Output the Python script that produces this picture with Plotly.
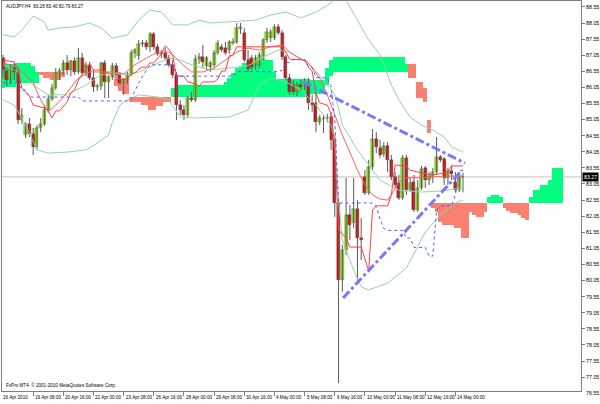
import plotly.graph_objects as go

SYMBOL_TEXT = "AUDJPY,H4  83.28 83.40 82.79 83.27"
COPYRIGHT = "FxPro MT4, © 2001-2010 MetaQuotes Software Corp."
BID = 83.27

TIME_LABEL_BARS = [0, 8, 16, 24, 32, 40, 48, 56, 64, 72, 80, 88, 96, 104, 112, 120]
TIME_LABELS = ["16 Apr 2010", "19 Apr 08:00", "20 Apr 16:00", "22 Apr 00:00", "23 Apr 08:00",
               "26 Apr 16:00", "28 Apr 00:00", "29 Apr 08:00", "30 Apr 16:00", "4 May 00:00",
               "5 May 08:00", "6 May 16:00", "10 May 00:00", "11 May 08:00", "12 May 16:00",
               "14 May 00:00"]
PRICE_TICKS = [77.05, 77.55, 78.05, 78.55, 79.05, 79.55, 80.05, 80.55, 81.05, 81.55, 82.05,
               82.55, 83.05, 83.55, 84.05, 84.55, 85.05, 85.55, 86.05, 86.55, 87.05, 87.55,
               88.05, 88.55]
LOW_LABEL = "76.55"

OPEN = [86.96, 86.56, 86.28, 86.65, 86.53, 85.04, 84.57, 84.91, 84.60, 84.20,
        84.79, 84.91, 85.35, 85.69, 86.03, 86.47, 86.56, 86.81, 86.59, 86.87,
        86.53, 86.96, 86.50, 86.75, 86.34, 86.06, 86.09, 86.81, 86.22, 86.37,
        86.72, 86.44, 86.19, 86.28, 86.47, 87.12, 87.03, 87.40, 87.43, 87.31,
        87.71, 87.31, 87.09, 87.12, 86.96, 86.75, 86.44, 85.50, 85.35, 85.19,
        85.72, 85.66, 86.93, 86.99, 86.72, 86.68, 86.75, 87.12, 87.31, 87.27,
        87.21, 87.43, 87.46, 87.86, 87.74, 86.90, 86.96, 86.72, 86.75, 86.99,
        87.52, 87.58, 87.58, 87.93, 87.74, 86.99, 86.34, 86.12, 85.91, 86.12,
        86.06, 86.19, 85.57, 85.57, 84.97, 85.07, 85.10, 85.13, 84.42, 82.46,
        80.07, 81.00, 82.09, 81.84, 82.27, 81.37, 83.27, 82.77, 83.58, 84.45,
        84.17, 83.98, 84.23, 83.80, 83.27, 83.08, 82.62, 83.86, 82.86, 83.11,
        82.24, 82.93, 83.55, 83.17, 83.27, 83.42, 83.89, 83.83, 83.24, 83.45,
        83.11, 82.86, 83.28]
HIGH = [87.06, 86.72, 86.78, 86.84, 86.65, 85.41, 84.97, 85.10, 84.79, 84.88,
        85.10, 85.50, 85.82, 86.16, 86.65, 86.65, 86.90, 87.06, 86.90, 86.99,
        87.27, 87.12, 86.84, 86.84, 86.59, 86.16, 86.84, 86.90, 86.44, 86.81,
        86.81, 86.53, 86.34, 86.53, 87.21, 87.27, 87.52, 87.52, 87.52, 87.77,
        87.77, 87.40, 87.21, 87.27, 87.06, 86.90, 86.53, 85.66, 85.50, 85.78,
        85.91, 87.06, 87.12, 87.37, 87.03, 86.87, 87.21, 87.52, 87.40, 87.46,
        87.52, 87.58, 88.05, 88.05, 87.90, 87.21, 87.06, 87.06, 87.15, 87.58,
        87.90, 87.86, 88.01, 88.02, 87.83, 87.06, 86.47, 86.28, 86.22, 86.28,
        86.34, 86.34, 85.82, 85.88, 85.19, 85.19, 85.23, 85.29, 84.57, 82.55,
        81.16, 83.24, 82.40, 83.24, 82.55, 81.99, 83.48, 83.80, 84.76, 84.66,
        84.42, 84.35, 84.35, 83.95, 83.42, 83.33, 83.95, 83.95, 83.24, 83.33,
        83.17, 83.61, 83.61, 83.42, 83.55, 84.51, 83.95, 83.89, 83.55, 83.64,
        83.42, 83.42, 83.40]
LOW = [86.34, 86.09, 86.16, 86.28, 84.91, 84.91, 84.48, 84.51, 83.95, 84.11,
       84.66, 84.85, 85.26, 85.63, 85.97, 86.28, 86.44, 86.44, 86.40, 86.44,
       86.47, 86.44, 86.40, 86.28, 85.91, 85.94, 85.97, 85.72, 85.72, 86.28,
       86.34, 86.12, 85.82, 86.16, 86.40, 86.96, 86.90, 87.31, 87.21, 87.15,
       87.21, 87.03, 86.96, 86.90, 86.68, 86.34, 85.04, 85.19, 85.04, 85.10,
       85.60, 85.60, 86.78, 86.65, 86.59, 86.53, 86.65, 87.06, 87.15, 87.06,
       87.09, 87.37, 87.40, 87.71, 86.84, 86.53, 86.59, 86.59, 86.65, 86.90,
       87.43, 87.46, 87.52, 87.68, 86.90, 86.28, 85.82, 85.82, 85.78, 85.91,
       85.97, 85.35, 85.29, 84.66, 84.88, 84.63, 84.97, 84.11, 82.03, 76.87,
       79.70, 80.84, 81.31, 81.68, 79.97, 80.69, 82.71, 82.71, 83.48, 84.01,
       83.86, 83.89, 83.42, 83.17, 82.93, 82.55, 82.55, 82.71, 82.80, 82.18,
       82.18, 82.86, 82.93, 83.02, 83.08, 83.33, 83.73, 83.02, 83.02, 83.17,
       82.80, 82.80, 82.79]
CLOSE = [86.59, 86.28, 86.65, 86.53, 85.04, 85.19, 84.91, 84.60, 84.20, 84.79,
         84.91, 85.35, 85.69, 86.03, 86.50, 86.56, 86.81, 86.59, 86.87, 86.53,
         86.96, 86.50, 86.75, 86.34, 86.06, 86.09, 86.81, 86.22, 86.37, 86.72,
         86.44, 86.19, 86.28, 86.47, 87.12, 87.21, 87.40, 87.43, 87.31, 87.71,
         87.31, 87.09, 87.12, 86.96, 86.75, 86.44, 85.50, 85.35, 85.19, 85.72,
         85.66, 86.93, 86.99, 86.84, 86.96, 86.81, 87.12, 87.43, 87.21, 87.12,
         87.46, 87.46, 87.90, 87.93, 86.90, 86.62, 86.68, 86.96, 87.06, 87.52,
         87.77, 87.77, 87.93, 87.74, 86.99, 86.34, 85.91, 85.91, 86.12, 86.06,
         86.16, 85.57, 85.50, 84.97, 85.10, 85.07, 85.10, 84.42, 82.46, 80.07,
         81.00, 82.09, 81.78, 82.27, 81.37, 81.31, 82.77, 83.58, 84.45, 84.20,
         83.95, 84.23, 83.80, 83.27, 83.02, 82.62, 83.86, 82.86, 83.08, 82.24,
         82.93, 83.52, 83.17, 83.30, 83.42, 83.89, 83.80, 83.24, 83.45, 83.36,
         82.86, 83.27, 83.27]

# Tenkan-sen (red, stepped)
TENKAN_BARS = [0, 3, 4, 5, 7, 8, 11, 12, 13, 14, 15, 16, 17, 18, 19, 20, 21, 22, 23, 24, 26, 27,
               28, 29, 30, 33, 34, 35, 36, 37, 38, 39, 40, 41, 42, 43, 44, 45, 46, 48, 49, 51,
               52, 53, 56, 57, 58, 59, 60, 61, 62, 74, 75, 76, 80, 81, 82, 83, 84, 86, 87, 88,
               89, 91, 92, 95, 96, 97, 98, 99, 102, 103, 104, 107, 108, 110, 114, 118, 119, 122]
TENKAN = [86.90, 86.84, 86.59, 86.03, 85.78, 85.50, 85.41, 85.32, 85.10, 85.32, 85.32, 85.47,
          85.60, 85.88, 85.97, 86.28, 86.47, 86.62, 86.78, 86.59, 86.59, 86.50, 86.50, 86.44,
          86.31, 86.31, 86.47, 86.50, 86.62, 86.68, 86.68, 86.81, 86.81, 86.96, 87.09, 87.34,
          87.24, 87.06, 86.40, 86.40, 86.22, 86.16, 86.09, 86.22, 86.22, 86.31, 86.56, 86.56,
          87.03, 87.06, 87.31, 87.31, 87.15, 86.93, 86.90, 86.68, 86.56, 85.88, 85.57, 85.50,
          85.23, 84.20, 81.62, 81.37, 81.09, 81.09, 80.72, 80.35, 82.24, 82.37, 82.37, 82.71,
          83.64, 83.61, 83.48, 83.42, 83.33, 83.42, 83.61, 83.61]

# Moving average (red, smooth)
MA_BARS = [0, 4, 8, 10, 12, 14, 16, 18, 20, 23, 26, 29, 32, 35, 38, 41, 44, 46, 48, 50, 53, 56,
           59, 62, 65, 68, 71, 74, 76, 78, 81, 84, 86, 88, 90, 92, 94, 96, 98, 100, 102, 103,
           105, 107, 110, 114, 118, 122]
MA = [86.81, 86.68, 86.19, 85.66, 85.29, 85.50, 85.75, 86.03, 86.34, 86.53, 86.53, 86.53,
      86.47, 86.75, 86.96, 87.15, 87.15, 86.96, 86.72, 86.53, 86.53, 86.65, 86.90, 87.15,
      87.27, 87.21, 87.31, 87.37, 87.15, 86.99, 86.81, 86.34, 85.82, 85.19, 84.57, 84.04,
      83.48, 83.02, 82.71, 82.58, 82.55, 82.71, 83.11, 83.24, 83.24, 83.27, 83.30, 83.30]

# Kijun-sen (blue, dotted)
KIJUN_BARS = [0, 4, 5, 6, 7, 20, 21, 33, 34, 35, 36, 37, 38, 39, 45, 46, 61, 62, 73, 74, 75, 76,
              77, 80, 81, 82, 83, 86, 87, 88, 89, 98, 99, 100, 101, 102, 106, 107, 108, 109,
              112, 113, 114, 115, 116, 119, 120, 121, 122]
KIJUN = [86.19, 86.19, 85.97, 85.97, 85.75, 85.75, 85.63, 85.63, 85.69, 85.97, 86.19, 86.40,
         86.59, 86.75, 86.75, 86.40, 86.40, 86.54, 86.54, 86.58, 86.82, 86.82, 86.92, 86.92,
         86.70, 86.67, 86.36, 86.34, 86.08, 85.04, 82.46, 82.46, 82.35, 81.96, 81.67, 81.61,
         81.61, 81.37, 81.37, 81.08, 81.08, 80.81, 80.81, 82.23, 82.37, 82.37, 82.72, 83.47,
         83.47]

# Bollinger bands (pale green)
BB_UP_BARS = [0, 3, 5, 8, 11, 12, 15, 19, 23, 26, 29, 33, 36, 39, 42, 45, 49, 52, 55, 60, 67,
              71, 75, 79, 83, 87, 89, 90, 91, 94, 97, 100, 103, 105, 108, 111, 114, 117, 119, 122]
BB_UP = [87.68, 87.62, 87.83, 88.27, 88.08, 87.83, 87.90, 87.93, 88.05, 87.90, 87.58, 87.68,
         88.14, 88.45, 88.39, 87.99, 87.99, 88.14, 88.05, 88.08, 88.14, 88.30, 88.39, 88.21,
         88.39, 88.67, 89.01, 89.00, 88.75, 88.14, 87.52, 87.06, 86.12, 85.66, 85.13, 84.88,
         84.73, 84.51, 84.20, 84.04]
BB_MID_BARS = [0, 3, 5, 8, 12, 17, 22, 26, 29, 33, 36, 40, 44, 47, 50, 55, 60, 65, 69, 73, 76,
               79, 81, 85, 88, 89, 90, 94, 97, 100, 105, 111, 116, 122]
BB_MID = [86.75, 86.59, 86.44, 86.12, 85.82, 85.82, 86.12, 86.44, 86.50, 86.44, 86.53, 86.75,
          86.96, 86.90, 86.75, 86.59, 86.65, 86.72, 86.99, 87.21, 87.15, 86.96, 86.81, 86.28,
          85.82, 85.41, 84.88, 84.11, 83.64, 83.17, 82.86, 82.80, 82.83, 82.93]
BB_LO_BARS = [0, 3, 6, 9, 12, 17, 22, 25, 28, 29, 31, 33, 36, 41, 44, 47, 51, 60, 65, 68, 71,
              75, 79, 83, 87, 88, 89, 90, 93, 95, 97, 102, 107, 110, 112, 116, 120, 122]
BB_LO = [85.66, 85.50, 84.88, 84.11, 84.01, 84.04, 84.11, 84.32, 84.57, 84.97, 85.50, 85.66,
         85.82, 85.75, 85.66, 85.13, 85.10, 85.13, 85.35, 86.12, 86.34, 86.22, 85.97, 85.50,
         84.88, 84.42, 82.55, 81.31, 80.38, 79.85, 79.76, 79.97, 80.44, 81.09, 81.56, 82.09,
         82.46, 82.55]

# Ichimoku cloud blocks: bar range, Senkou span A, Senkou span B
CLOUD_FROM = [0, 1, 4, 8, 9, 10, 11, 13, 16, 30, 31, 32, 34, 37, 39, 41, 43, 45, 46, 47, 59, 60,
              61, 62, 63, 64, 67, 69, 70, 72, 73, 82, 86, 87, 88, 107, 108, 110, 112, 113, 114,
              115, 116, 117, 120, 122, 124, 125, 126, 128, 129, 130, 132, 133, 134, 135, 137,
              138, 139, 140, 141, 143, 145, 146]
CLOUD_TO = [0, 3, 7, 8, 9, 10, 12, 15, 16, 30, 31, 33, 36, 38, 40, 42, 44, 45, 46, 58, 59, 60,
            61, 62, 63, 66, 68, 69, 71, 72, 81, 85, 86, 87, 106, 107, 109, 111, 112, 113, 114,
            115, 116, 119, 121, 123, 124, 125, 127, 128, 129, 131, 132, 133, 134, 136, 137,
            138, 139, 140, 142, 144, 145, 148]
SPAN_A = [86.72, 86.78, 86.81, 86.72, 86.53, 86.44, 86.34, 86.28, 86.37, 86.09, 85.94, 85.85,
          85.60, 85.50, 85.35, 85.47, 85.60, 86.03, 86.09, 86.12, 86.22, 86.34, 86.50, 86.65,
          86.72, 86.81, 86.90, 86.96, 86.90, 86.53, 86.31, 86.28, 86.65, 86.90, 86.99, 86.78,
          86.34, 85.72, 85.60, 84.63, 82.30, 82.18, 81.87, 81.78, 81.68, 81.37, 82.18, 82.09,
          82.03, 82.18, 82.65, 82.71, 82.65, 82.30, 82.21, 82.15, 82.09, 82.00, 81.93, 82.65,
          82.86, 83.02, 83.17, 83.55]
SPAN_B = [86.03, 86.06, 86.19, 86.19, 86.19, 86.53, 86.53, 86.53, 86.53, 86.31, 86.31, 86.31,
          85.75, 85.75, 85.75, 85.75, 85.75, 85.75, 85.75, 85.75, 85.75, 85.75, 85.75, 85.75,
          85.75, 85.75, 85.75, 85.75, 85.75, 85.75, 85.75, 85.85, 86.12, 86.40, 86.53, 86.53,
          86.78, 86.22, 86.03, 85.04, 82.46, 82.46, 82.46, 82.46, 82.46, 82.46, 82.46, 82.46,
          82.46, 82.46, 82.46, 82.46, 82.46, 82.46, 82.46, 82.46, 82.46, 82.46, 82.46, 82.46,
          82.46, 82.46, 82.46, 82.46]

# Hand-drawn trend lines (bar, price)
TL1_BARS = [79.6, 122.5]
TL1 = [86.22, 83.70]
TL2_BARS = [90.2, 121.8]
TL2 = [79.51, 83.48]

FONT = "Liberation Sans, Arial, sans-serif"
FS_AXIS = 5.3
FS_TIME = 4.6
FS_TEXT = 4.6

fig = go.Figure()

# cloud
cx = [(a + b) / 2 for a, b in zip(CLOUD_FROM, CLOUD_TO)]
cw = [b - a + 1 for a, b in zip(CLOUD_FROM, CLOUD_TO)]
cbase = [min(a, b) for a, b in zip(SPAN_A, SPAN_B)]
ch = [abs(a - b) for a, b in zip(SPAN_A, SPAN_B)]
ccol = ["#00FF7F" if a >= b else "#FA8072" for a, b in zip(SPAN_A, SPAN_B)]
fig.add_trace(go.Bar(x=cx, y=ch, base=cbase, width=cw,
                     marker=dict(color=ccol, line=dict(width=0)), hoverinfo="skip"))

# candles
bars = list(range(len(OPEN)))
wx, wy = [], []
for i in bars:
    wx += [i, i, None]
    wy += [LOW[i], HIGH[i], None]
fig.add_trace(go.Scatter(x=wx, y=wy, mode="lines", line=dict(color="#5a5a5a", width=1),
                         hoverinfo="skip"))
for up, col in ((True, "#8CF000"), (False, "#E80000")):
    xs = [i for i in bars if (CLOSE[i] >= OPEN[i]) == up]
    base = [min(OPEN[i], CLOSE[i]) for i in xs]
    h = [max(abs(CLOSE[i] - OPEN[i]), 0.012) for i in xs]
    fig.add_trace(go.Bar(x=xs, y=h, base=base, width=0.8,
                         marker=dict(color=col, line=dict(color="#505050", width=0.4)),
                         hoverinfo="skip"))

# indicators
bb_style = dict(color="#8fd6a6", width=1)
fig.add_trace(go.Scatter(x=BB_UP_BARS, y=BB_UP, mode="lines", line=bb_style))
fig.add_trace(go.Scatter(x=BB_MID_BARS, y=BB_MID, mode="lines", line=bb_style))
fig.add_trace(go.Scatter(x=BB_LO_BARS, y=BB_LO, mode="lines", line=bb_style))
fig.add_trace(go.Scatter(x=MA_BARS, y=MA, mode="lines", line=dict(color="#ff6060", width=1)))
fig.add_trace(go.Scatter(x=TENKAN_BARS, y=TENKAN, mode="lines", line=dict(color="#ff4040", width=1)))
fig.add_trace(go.Scatter(x=KIJUN_BARS, y=KIJUN, mode="lines",
                         line=dict(color="#5a5aff", width=1, dash="dot")))
fig.add_trace(go.Scatter(x=TL1_BARS, y=TL1, mode="lines",
                         line=dict(color="#7878ff", width=3, dash="dashdot")))
fig.add_trace(go.Scatter(x=TL2_BARS, y=TL2, mode="lines",
                         line=dict(color="#7878ff", width=3, dash="dashdot")))

fig.add_shape(type="line", xref="paper", x0=0, x1=1, yref="y", y0=BID, y1=BID,
              line=dict(color="#c0c0c0", width=1), layer="below")

ann = []
for b, t in zip(TIME_LABEL_BARS, TIME_LABELS):
    ann.append(dict(x=b, xref="x", y=0, yref="paper", text=t, showarrow=False,
                    xanchor="left", yanchor="top", xshift=0 if b else -2, yshift=-2,
                    font=dict(family=FONT, size=FS_TIME, color="#000")))
ann.append(dict(x=0, xref="paper", y=1, yref="paper", text=SYMBOL_TEXT, showarrow=False,
                xanchor="left", yanchor="top", xshift=2, yshift=-1,
                font=dict(family=FONT, size=FS_TEXT, color="#000")))
ann.append(dict(x=0, xref="paper", y=0, yref="paper", text=COPYRIGHT, showarrow=False,
                xanchor="left", yanchor="bottom", xshift=2, yshift=1,
                font=dict(family=FONT, size=FS_TEXT, color="#000")))
ann.append(dict(x=1, xref="paper", y=BID, yref="y", text=str(BID), showarrow=False,
                xanchor="left", yanchor="middle", xshift=1, bgcolor="#000", borderpad=1,
                font=dict(family=FONT, size=FS_AXIS, color="#fff")))
ann.append(dict(x=1, xref="paper", y=0, yref="paper", text=LOW_LABEL, showarrow=False,
                xanchor="left", yanchor="middle", xshift=3, yshift=-2,
                font=dict(family=FONT, size=FS_AXIS, color="#000")))

fig.update_layout(
    width=600, height=404, margin=dict(l=2, r=19, t=1, b=13),
    paper_bgcolor="white", plot_bgcolor="white", showlegend=False,
    barmode="overlay", bargap=0, annotations=ann,
    xaxis=dict(range=[-0.265, 153.3], showgrid=False, zeroline=False, showline=True,
               linecolor="#808080", linewidth=1, mirror=True, ticks="outside",
               tickvals=TIME_LABEL_BARS[1:], ticklen=4, tickcolor="#808080",
               showticklabels=False, fixedrange=True),
    yaxis=dict(range=[76.62, 88.734], side="right", showgrid=False, zeroline=False,
               showline=True, linecolor="#808080", linewidth=1, mirror=True,
               ticks="outside", ticklen=3, tickcolor="#808080", tickvals=PRICE_TICKS,
               tickformat=".2f", tickfont=dict(family=FONT, size=FS_AXIS, color="#000"),
               fixedrange=True),
)

fig.write_html("out.html", config={"displayModeBar": False},
               post_script="document.body.style.margin='0';document.body.style.padding='0';")
